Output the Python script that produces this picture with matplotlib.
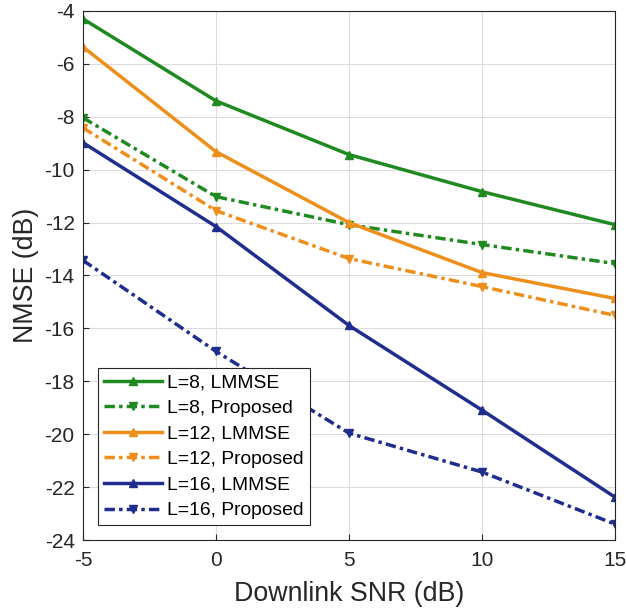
import matplotlib
matplotlib.use("Agg")
import matplotlib.pyplot as plt

plt.rcParams['font.family'] = ['Liberation Sans', 'DejaVu Sans']
plt.rcParams['axes.unicode_minus'] = False

# datos
snr = [-5, 0, 5, 10, 15]
l8_lmmse = [-4.3, -7.4, -9.43, -10.83, -12.08]
l8_prop = [-8.04, -11.02, -12.08, -12.83, -13.55]
l12_lmmse = [-5.36, -9.32, -12.0, -13.89, -14.87]
l12_prop = [-8.42, -11.55, -13.36, -14.42, -15.51]
l16_lmmse = [-8.98, -12.15, -15.89, -19.09, -22.38]
l16_prop = [-13.43, -16.87, -19.96, -21.43, -23.4]

verde = '#1f8a1f'
naranja = '#ee8f1c'
azul = '#1f2e8e'
guion = (0, (3, 1.2, 1, 1.2))

fig = plt.figure(figsize=(6.26, 6.09), dpi=100)
ax = fig.add_axes([0.1326, 0.1133, 0.8498, 0.8687])

ax.plot(snr, l8_lmmse, '-', marker='^', color=verde, lw=2.5, ms=5.5, label='L=8, LMMSE')
ax.plot(snr, l8_prop, linestyle=guion, marker='v', color=verde, lw=2.5, ms=5.5, label='L=8, Proposed')
ax.plot(snr, l12_lmmse, '-', marker='^', color=naranja, lw=2.5, ms=5.5, label='L=12, LMMSE')
ax.plot(snr, l12_prop, linestyle=guion, marker='v', color=naranja, lw=2.5, ms=5.5, label='L=12, Proposed')
ax.plot(snr, l16_lmmse, '-', marker='^', color=azul, lw=2.5, ms=5.5, label='L=16, LMMSE')
ax.plot(snr, l16_prop, linestyle=guion, marker='v', color=azul, lw=2.5, ms=5.5, label='L=16, Proposed')

ax.set_xlim(-5, 15)
ax.set_ylim(-24, -4)
ax.set_xticks([-5, 0, 5, 10, 15])
ax.set_yticks(range(-24, -3, 2))
ax.grid(True, color='#dcdcdc', lw=0.8)
ax.tick_params(direction='in', labelsize=15, colors='#262626', length=4)
ax.tick_params(axis='x', pad=8)
ax.tick_params(axis='y', pad=6)
for s in ax.spines.values():
    s.set_color('#262626')
    s.set_linewidth(0.8)

ax.set_xlabel('Downlink SNR (dB)', fontsize=19.3, color='#262626', labelpad=8)
ax.set_ylabel('NMSE (dB)', fontsize=19.3, color='#262626', labelpad=4)

leg = ax.legend(loc='lower left', bbox_to_anchor=(0.028, 0.028), fontsize=13.9,
                fancybox=False, edgecolor='#262626', framealpha=1,
                handlelength=3.0, handletextpad=0.3, borderaxespad=0,
                labelspacing=0.42, borderpad=0.3)
leg.get_frame().set_linewidth(0.8)

fig.savefig('out.png', dpi=100)
